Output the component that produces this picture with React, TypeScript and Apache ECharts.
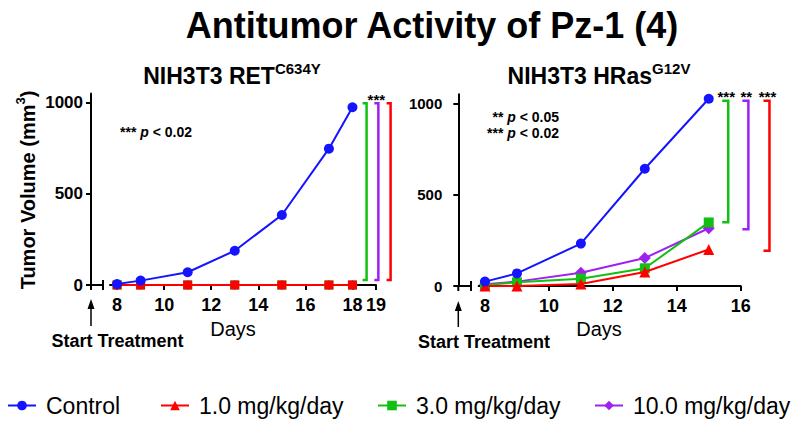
import React, { useEffect, useRef } from "react";
import * as echarts from "echarts";

const FONT = '"Liberation Sans", Arial, Helvetica, sans-serif';

// Left panel: NIH3T3 RET C634Y
const days1 = [8, 9, 11, 13, 15, 17, 18];
const control1 = [5, 24, 70, 188, 384, 748, 975];
const dose1mg1 = [0, 0, 0, 0, 0, 0, 0];
const dose3mg1 = [0, 0, 0, 0, 0, 0, 0];
const dose10mg1 = [0, 0, 0, 0, 0, 0, 0];
const xTicks1 = [8, 10, 12, 14, 16, 18, 19];

// Right panel: NIH3T3 HRas G12V
const days2 = [8, 9, 11, 13, 15];
const control2 = [24, 69, 232, 642, 1025];
const dose1mg2 = [0, 0, 11, 77, 200];
const dose3mg2 = [6, 20, 40, 97, 348];
const dose10mg2 = [10, 24, 73, 153, 316];
const xTicks2 = [8, 10, 12, 14, 16];

const yTicks = [0, 500, 1000];

// Significance brackets: x position (day), top, bottom, stars
const bracketX1 = [18.6, 19.1, 19.62];
const bracketTop1 = [997, 997, 997];
const bracketBottom1 = [27, 27, 27];
const bracketStars1 = ["", "***", ""];

const bracketX2 = [15.61, 16.24, 16.9];
const bracketTop2 = [1014, 1014, 1014];
const bracketBottom2 = [349, 310, 193];
const bracketStars2 = ["***", "**", "***"];

const seriesNames = ["Control", "1.0 mg/kg/day", "3.0 mg/kg/day", "10.0 mg/kg/day"];
const COLORS = ["#1414ff", "#ff0000", "#12c012", "#a020f0"];
const BRACKET_COLORS = ["#12c012", "#a020f0", "#ff0000"];
const LEGEND_LEFT = [7, 160, 377, 594];

function pairs(xs: number[], ys: number[]) {
  return xs.map((x, i) => [x, ys[i]]);
}

function bracketSeries(
  xi: number,
  xs: number[],
  tops: number[],
  bottoms: number[],
  stars: string[],
  w: number
) {
  return {
    type: "custom",
    xAxisIndex: xi,
    yAxisIndex: xi,
    clip: false,
    silent: true,
    z: 5,
    encode: { x: 0, y: [1, 2] },
    data: xs.map((x, i) => [x, tops[i], bottoms[i]]),
    renderItem: (params: any, api: any) => {
      const i = params.dataIndex;
      const pt = api.coord([api.value(0), api.value(1)]);
      const pb = api.coord([api.value(0), api.value(2)]);
      const children: any[] = [
        {
          type: "polyline",
          shape: {
            points: [
              [pt[0] - w, pt[1]],
              [pt[0], pt[1]],
              [pb[0], pb[1]],
              [pb[0] - w, pb[1]],
            ],
          },
          style: { stroke: BRACKET_COLORS[i], lineWidth: 2.5, fill: "none" },
        },
      ];
      if (stars[i]) {
        children.push({
          type: "text",
          x: pt[0] - 2,
          y: pt[1] - 4,
          style: {
            text: stars[i],
            fontFamily: FONT,
            fontSize: 15,
            fontWeight: "bold",
            fill: "#000",
            align: "center",
            verticalAlign: "middle",
          },
        });
      }
      return { type: "group", children };
    },
  };
}

function lineSeries(
  name: string,
  xi: number,
  xs: number[],
  ys: number[],
  color: string,
  symbol: string,
  size: number,
  z: number
) {
  return {
    name,
    type: "line",
    xAxisIndex: xi,
    yAxisIndex: xi,
    data: pairs(xs, ys),
    symbol,
    symbolSize: size,
    showAllSymbol: true,
    color,
    itemStyle: { color },
    lineStyle: { color, width: 2 },
    z,
  };
}

function xAxisCfg(gi: number, min: number, max: number, ticks: number[]) {
  return {
    gridIndex: gi,
    type: "value",
    min,
    max,
    axisLine: { show: true, onZero: false, lineStyle: { color: "#000", width: 2 } },
    axisTick: { show: true, length: 5, customValues: ticks, lineStyle: { color: "#000", width: 2 } },
    axisLabel: {
      customValues: ticks,
      formatter: (v: number) => String(v),
      fontSize: 18,
      fontWeight: "bold",
      fontFamily: FONT,
      color: "#000",
      margin: 11,
    },
    splitLine: { show: false },
  };
}

function yAxisCfg(gi: number, offset: number, fontSize: number, margin: number) {
  return {
    gridIndex: gi,
    type: "value",
    min: 0,
    max: 1050,
    offset,
    axisLine: { show: true, onZero: false, lineStyle: { color: "#000", width: 2 } },
    axisTick: { show: true, length: 5, customValues: yTicks, lineStyle: { color: "#000", width: 2 } },
    axisLabel: {
      customValues: yTicks,
      formatter: (v: number) => String(v),
      fontSize,
      fontWeight: "bold",
      fontFamily: FONT,
      color: "#000",
      margin,
    },
    splitLine: { show: false },
  };
}

function txt(x: number, y: number, text: string, size: number, weight: string, align = "center", rich?: any, rotation = 0) {
  return {
    type: "text",
    x,
    y,
    rotation,
    style: {
      text,
      fontFamily: FONT,
      fontSize: size,
      fontWeight: weight,
      fill: "#000",
      align,
      verticalAlign: "middle",
      rich,
    },
  };
}

function line(x1: number, y1: number, x2: number, y2: number, w = 2) {
  return {
    type: "line",
    shape: { x1, y1, x2, y2 },
    style: { stroke: "#000", lineWidth: w },
  };
}

function arrow(x: number, yTop: number, yBot: number) {
  return [
    line(x, yTop + 6, x, yBot, 1.5),
    {
      type: "polygon",
      shape: { points: [[x - 3.5, yTop + 10], [x, yTop], [x + 3.5, yTop + 10]] },
      style: { fill: "#000" },
    },
  ];
}

const starRich = {
  s: { fontFamily: FONT, fontSize: 14, fontWeight: "bold", fill: "#000", lineHeight: 16 },
  i: { fontFamily: FONT, fontSize: 14, fontWeight: "bold", fontStyle: "italic", fill: "#000", lineHeight: 16 },
  n: { fontFamily: FONT, fontSize: 14, fontWeight: "bold", fill: "#000", lineHeight: 16 },
};

const supRich = (big: number, small: number) => ({
  m: { fontFamily: FONT, fontSize: big, fontWeight: "bold", fill: "#000", lineHeight: big + 8 },
  sup: { fontFamily: FONT, fontSize: small, fontWeight: "bold", fill: "#000", verticalAlign: "top", lineHeight: big + 8 },
});

export default function App() {
  const ref = useRef<HTMLDivElement>(null);
  useEffect(() => {
    if (!ref.current) return;
    const chart = echarts.init(ref.current, undefined, { renderer: "svg" });
    const option: any = {
      animation: false,
      backgroundColor: "#fff",
      textStyle: { fontFamily: FONT },
      grid: [
        { left: 110, right: 424, top: 93.6, bottom: 143, containLabel: false },
        { left: 478.6, right: 59.3, top: 94.2, bottom: 142, containLabel: false },
      ],
      xAxis: [xAxisCfg(0, 7.7, 19, xTicks1), xAxisCfg(1, 7.8, 16, xTicks2)],
      yAxis: [yAxisCfg(0, 19, 17, 8), yAxisCfg(1, 20.3, 15, 16)],
      legend: seriesNames.map((name, i) => ({
        top: 394,
        left: LEGEND_LEFT[i],
        padding: 0,
        itemWidth: 28,
        itemHeight: 12,
        data: [name],
        textStyle: { fontSize: 23, fontFamily: FONT, color: "#000", padding: [0, 0, 0, 5] },
      })),
      series: [
        // right panel first (so the legend takes its symbols)
        lineSeries(seriesNames[0], 1, days2, control2, COLORS[0], "circle", 10, 10),
        lineSeries(seriesNames[1], 1, days2, dose1mg2, COLORS[1], "triangle", 11, 9),
        lineSeries(seriesNames[2], 1, days2, dose3mg2, COLORS[2], "rect", 10, 8),
        lineSeries(seriesNames[3], 1, days2, dose10mg2, COLORS[3], "diamond", 12, 7),
        // left panel
        lineSeries(seriesNames[2], 0, days1, dose3mg1, COLORS[2], "rect", 9, 6),
        lineSeries(seriesNames[3], 0, days1, dose10mg1, COLORS[3], "diamond", 10, 7),
        lineSeries(seriesNames[1], 0, days1, dose1mg1, COLORS[1], "rect", 9, 8),
        lineSeries(seriesNames[0], 0, days1, control1, COLORS[0], "circle", 10, 10),
        bracketSeries(0, bracketX1, bracketTop1, bracketBottom1, bracketStars1, 4),
        bracketSeries(1, bracketX2, bracketTop2, bracketBottom2, bracketStars2, 6),
      ],
      graphic: [
        txt(432, 25, "Antitumor Activity of Pz-1 (4)", 36, "bold"),
        txt(232, 76, "{m|NIH3T3 RET}{sup|C634Y}", 23, "bold", "center", supRich(23, 15)),
        txt(599, 76, "{m|NIH3T3 HRas}{sup|G12V}", 23, "bold", "center", supRich(23, 15)),
        txt(28, 190, "{m|Tumor Volume (mm}{sup|3}{m|)}", 20, "bold", "center", supRich(20, 13), Math.PI / 2),
        txt(120, 132, "{s|***} {i|p}{n| < 0.02}", 14, "bold", "left", starRich),
        txt(559, 124.5, "{s|**} {i|p}{n| < 0.05}\n{s|***} {i|p}{n| < 0.02}", 14, "bold", "right", starRich),
        txt(233, 329, "Days", 20, "normal"),
        txt(599, 329, "Days", 20, "normal"),
        txt(117.5, 341, "Start Treatment", 18, "bold"),
        txt(484, 342, "Start Treatment", 18, "bold"),
        // broken axis segments
        line(91, 285, 103, 285),
        line(103, 280, 103, 290),
        line(91, 284, 91, 290),
        line(458.3, 286, 471, 286),
        line(471, 281, 471, 291),
        line(458.3, 285, 458.3, 291),
        ...arrow(91, 299, 326),
        ...arrow(458.3, 301, 327),
      ],
    };
    chart.setOption(option);
    return () => chart.dispose();
  }, []);
  return (
    <div
      ref={ref}
      style={{ position: "fixed", left: 0, top: 0, width: 800, height: 428, background: "#fff" }}
    />
  );
}
